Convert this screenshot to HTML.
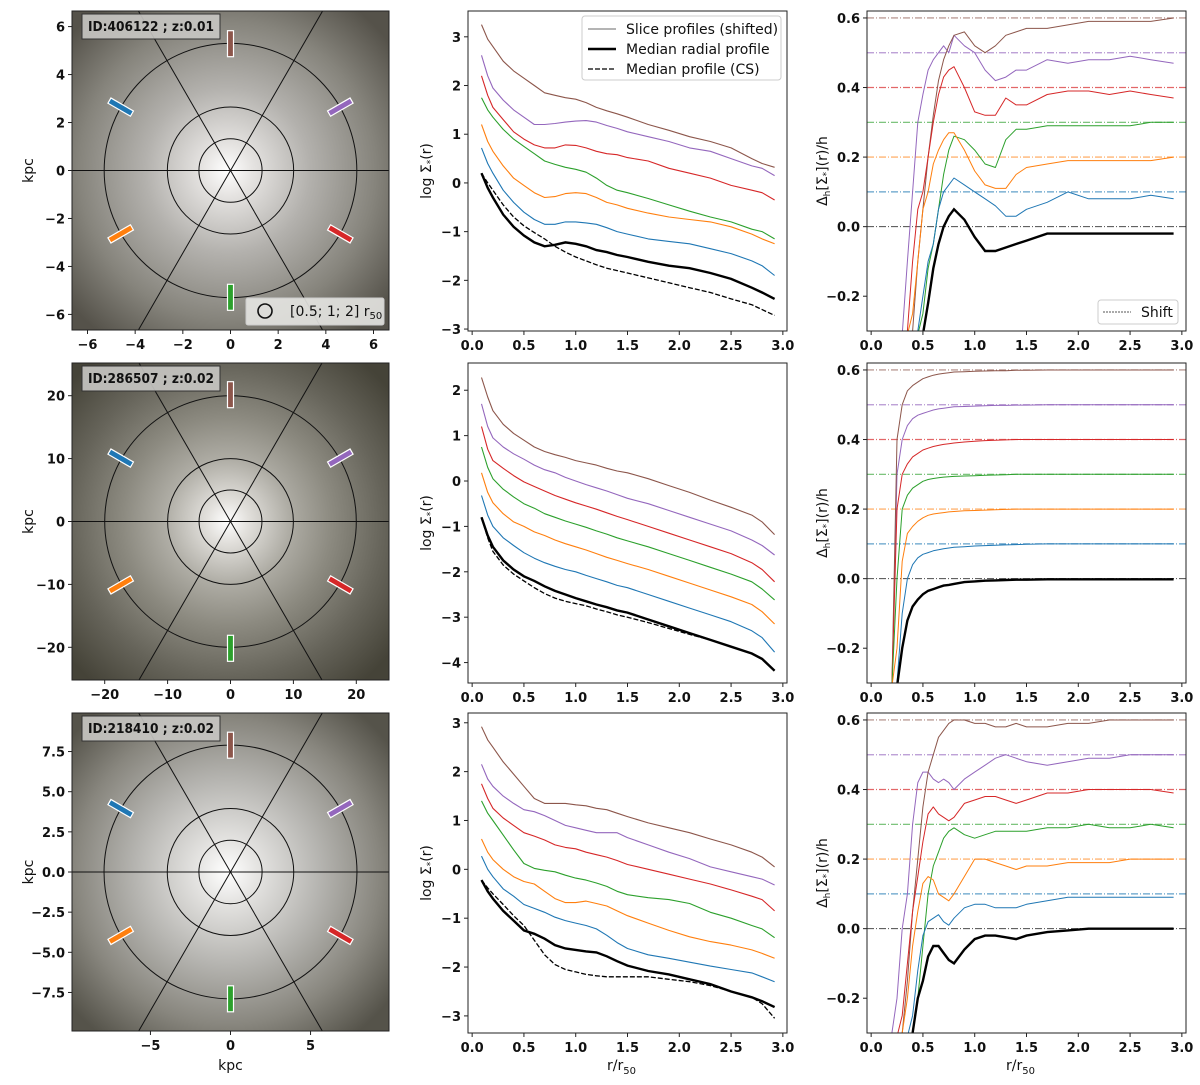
<!DOCTYPE html>
<html><head><meta charset="utf-8"><title>Radial profiles</title>
<style>
html,body{margin:0;padding:0;background:#fff;overflow:hidden;width:1200px;height:1085px;position:relative;}
svg{display:block;position:absolute;left:0;top:0;font-family:"DejaVu Sans","Liberation Sans",sans-serif;}
.tk{font-size:13px;font-weight:bold;fill:#111;}
.lab{font-size:14px;fill:#111;}
</style></head>
<body>
<svg id="fig" width="1200" height="1085" viewBox="0 0 1200 1085" xmlns="http://www.w3.org/2000/svg">
<defs>
<radialGradient id="g1" cx="0.49" cy="0.5" r="0.65"><stop offset="0" stop-color="#ffffff"/><stop offset="0.12" stop-color="#e6e4e2"/><stop offset="0.4" stop-color="#b3b1ad"/><stop offset="0.72" stop-color="#86847c"/><stop offset="1" stop-color="#55524a"/></radialGradient>
<radialGradient id="g2" cx="0.49" cy="0.5" r="0.66"><stop offset="0" stop-color="#ffffff"/><stop offset="0.1" stop-color="#e2e0dc"/><stop offset="0.3" stop-color="#aeaca4"/><stop offset="0.5" stop-color="#8c8a80"/><stop offset="0.75" stop-color="#66645a"/><stop offset="1" stop-color="#454338"/></radialGradient>
<radialGradient id="g3" cx="0.49" cy="0.5" r="0.65"><stop offset="0" stop-color="#ffffff"/><stop offset="0.14" stop-color="#e6e5e3"/><stop offset="0.45" stop-color="#b5b4b0"/><stop offset="0.74" stop-color="#88867e"/><stop offset="1" stop-color="#55534a"/></radialGradient>
</defs>
</svg>
<script>
// ---------- data ----------
const rMid = [0.09,0.15,0.2,0.3,0.4,0.5,0.6,0.7,0.8,0.9,1.0,1.1,1.2,1.3,1.4,1.5,1.7,1.9,2.1,2.3,2.5,2.7,2.8,2.92];
const rDev = [0.15,0.2,0.25,0.3,0.35,0.4,0.45,0.5,0.55,0.6,0.65,0.7,0.75,0.8,0.9,1.0,1.1,1.2,1.3,1.4,1.5,1.7,1.9,2.1,2.3,2.5,2.7,2.92];
const sliceNames = ["blue","orange","green","red","purple","brown"];
const shiftLevels = [0.1,0.2,0.3,0.4,0.5,0.6];
const galaxyIds = ["ID:406122 ; z:0.01","ID:286507 ; z:0.02","ID:218410 ; z:0.02"];
const r50 = [2.65,10,3.95];

// Row 1 profiles
const p1Brown  = [3.25,2.95,2.8,2.5,2.3,2.15,2.0,1.85,1.8,1.75,1.72,1.65,1.55,1.48,1.42,1.35,1.2,1.08,0.95,0.85,0.72,0.5,0.4,0.32];
const p1Purple = [2.62,2.2,1.95,1.7,1.5,1.35,1.2,1.2,1.22,1.25,1.27,1.28,1.25,1.18,1.12,1.05,0.95,0.85,0.72,0.65,0.5,0.35,0.3,0.15];
const p1Red    = [2.2,1.8,1.55,1.3,1.05,0.9,0.78,0.72,0.72,0.78,0.77,0.72,0.65,0.6,0.58,0.52,0.45,0.3,0.2,0.1,-0.05,-0.15,-0.2,-0.35];
const p1Green  = [1.75,1.5,1.35,1.1,0.9,0.75,0.6,0.45,0.38,0.32,0.28,0.22,0.1,-0.05,-0.15,-0.2,-0.32,-0.45,-0.58,-0.7,-0.8,-0.95,-1.0,-1.15];
const p1Orange = [1.2,0.85,0.65,0.35,0.1,-0.05,-0.2,-0.3,-0.28,-0.22,-0.2,-0.22,-0.3,-0.4,-0.45,-0.52,-0.62,-0.7,-0.75,-0.8,-0.9,-1.05,-1.15,-1.25];
const p1Blue   = [0.72,0.4,0.2,-0.15,-0.4,-0.6,-0.75,-0.85,-0.85,-0.8,-0.8,-0.82,-0.85,-0.92,-1.0,-1.05,-1.15,-1.2,-1.25,-1.35,-1.45,-1.6,-1.7,-1.9];
const p1Median = [0.2,-0.1,-0.3,-0.65,-0.9,-1.08,-1.22,-1.3,-1.27,-1.22,-1.25,-1.3,-1.38,-1.42,-1.48,-1.52,-1.62,-1.7,-1.75,-1.85,-1.97,-2.15,-2.25,-2.38];
const p1CS     = [0.2,0.0,-0.15,-0.45,-0.7,-0.88,-1.02,-1.15,-1.3,-1.42,-1.52,-1.6,-1.68,-1.75,-1.8,-1.85,-1.95,-2.05,-2.15,-2.25,-2.38,-2.5,-2.6,-2.72];
// Row 2 profiles
const p2Brown  = [2.28,1.85,1.55,1.25,1.05,0.9,0.75,0.65,0.58,0.52,0.45,0.4,0.35,0.28,0.22,0.18,0.05,-0.1,-0.25,-0.42,-0.58,-0.75,-0.9,-1.18];
const p2Purple = [1.7,1.2,0.95,0.75,0.6,0.48,0.35,0.25,0.18,0.08,0.0,-0.08,-0.15,-0.22,-0.3,-0.38,-0.5,-0.65,-0.8,-0.95,-1.1,-1.3,-1.42,-1.63];
const p2Red    = [1.2,0.7,0.45,0.28,0.12,-0.02,-0.12,-0.22,-0.32,-0.4,-0.48,-0.55,-0.62,-0.7,-0.78,-0.85,-1.0,-1.15,-1.3,-1.45,-1.6,-1.8,-1.95,-2.22];
const p2Green  = [0.75,0.3,0.05,-0.18,-0.35,-0.5,-0.6,-0.72,-0.8,-0.88,-0.95,-1.02,-1.1,-1.17,-1.25,-1.32,-1.45,-1.6,-1.75,-1.9,-2.05,-2.22,-2.38,-2.62];
const p2Orange = [0.18,-0.25,-0.48,-0.72,-0.9,-1.0,-1.12,-1.2,-1.3,-1.38,-1.45,-1.52,-1.6,-1.68,-1.75,-1.82,-1.95,-2.1,-2.25,-2.4,-2.55,-2.72,-2.88,-3.15];
const p2Blue   = [-0.32,-0.75,-1.0,-1.25,-1.42,-1.58,-1.7,-1.8,-1.88,-1.95,-2.0,-2.08,-2.15,-2.22,-2.3,-2.35,-2.5,-2.65,-2.8,-2.95,-3.1,-3.3,-3.45,-3.77];
const p2Median = [-0.8,-1.2,-1.45,-1.75,-1.95,-2.1,-2.2,-2.32,-2.42,-2.5,-2.58,-2.65,-2.72,-2.78,-2.85,-2.9,-3.05,-3.2,-3.35,-3.5,-3.65,-3.8,-3.92,-4.18];
const p2CS     = [-0.8,-1.25,-1.55,-1.85,-2.05,-2.2,-2.35,-2.48,-2.58,-2.65,-2.7,-2.75,-2.82,-2.88,-2.95,-3.0,-3.12,-3.25,-3.38,-3.5,-3.65,-3.8,-3.92,-4.18];
// Row 3 profiles
const p3Brown  = [2.92,2.65,2.5,2.2,1.95,1.7,1.45,1.35,1.35,1.35,1.32,1.3,1.25,1.22,1.15,1.08,0.95,0.85,0.75,0.62,0.5,0.35,0.25,0.05];
const p3Purple = [2.15,1.85,1.7,1.5,1.35,1.22,1.18,1.1,1.0,0.9,0.85,0.8,0.75,0.75,0.75,0.65,0.5,0.35,0.22,0.05,-0.05,-0.15,-0.2,-0.32];
const p3Red    = [1.75,1.45,1.25,1.05,0.9,0.75,0.68,0.6,0.5,0.45,0.42,0.35,0.3,0.25,0.18,0.1,0.0,-0.1,-0.2,-0.3,-0.42,-0.55,-0.62,-0.85];
const p3Green  = [1.4,1.15,1.0,0.7,0.4,0.12,0.02,-0.02,-0.05,-0.12,-0.18,-0.22,-0.28,-0.35,-0.45,-0.52,-0.58,-0.62,-0.7,-0.88,-1.0,-1.15,-1.22,-1.4];
const p3Orange = [0.62,0.35,0.2,0.0,-0.15,-0.25,-0.3,-0.45,-0.6,-0.68,-0.68,-0.65,-0.7,-0.75,-0.85,-0.95,-1.1,-1.25,-1.38,-1.48,-1.55,-1.65,-1.72,-1.82];
const p3Blue   = [0.27,0.0,-0.15,-0.4,-0.55,-0.72,-0.8,-0.88,-0.98,-1.05,-1.1,-1.15,-1.22,-1.35,-1.5,-1.62,-1.75,-1.82,-1.9,-1.98,-2.05,-2.12,-2.2,-2.3];
const p3Median = [-0.22,-0.45,-0.6,-0.85,-1.05,-1.25,-1.32,-1.42,-1.55,-1.62,-1.65,-1.68,-1.7,-1.78,-1.88,-1.97,-2.08,-2.15,-2.25,-2.35,-2.5,-2.62,-2.7,-2.82];
const p3CS     = [-0.22,-0.38,-0.5,-0.72,-0.95,-1.15,-1.45,-1.75,-1.95,-2.05,-2.1,-2.15,-2.18,-2.2,-2.2,-2.2,-2.2,-2.25,-2.3,-2.38,-2.5,-2.62,-2.75,-3.05];

// Row 1 deviations (shifted)
const d1Brown  = [-1,-1,-1,-0.6,-0.5,-0.3,-0.1,0.05,0.2,0.32,0.42,0.48,0.52,0.55,0.56,0.52,0.5,0.52,0.55,0.56,0.57,0.57,0.58,0.59,0.59,0.59,0.59,0.6];
const d1Purple = [-1,-1,-1,-0.5,-0.1,0.1,0.3,0.38,0.45,0.48,0.5,0.52,0.5,0.55,0.52,0.5,0.45,0.42,0.43,0.45,0.45,0.48,0.47,0.48,0.48,0.49,0.48,0.47];
const d1Red    = [-1,-1,-1,-0.6,-0.3,-0.1,0.05,0.1,0.2,0.3,0.38,0.43,0.45,0.46,0.4,0.33,0.32,0.32,0.37,0.35,0.35,0.38,0.39,0.39,0.38,0.39,0.38,0.37];
const d1Green  = [-1,-1,-1,-0.8,-0.6,-0.5,-0.35,-0.25,-0.12,-0.05,0.05,0.15,0.22,0.26,0.25,0.22,0.18,0.17,0.25,0.28,0.28,0.29,0.29,0.29,0.29,0.29,0.3,0.3];
const d1Orange = [-1,-1,-1,-0.6,-0.4,-0.25,-0.1,0.05,0.1,0.18,0.22,0.25,0.27,0.27,0.22,0.16,0.12,0.11,0.11,0.15,0.17,0.18,0.19,0.19,0.19,0.19,0.19,0.2];
const d1Blue   = [-1,-1,-1,-0.8,-0.6,-0.4,-0.3,-0.2,-0.1,-0.05,0.05,0.1,0.12,0.14,0.12,0.1,0.08,0.06,0.03,0.03,0.05,0.07,0.1,0.08,0.08,0.08,0.09,0.08];
const d1Median = [-1,-1,-1,-0.9,-0.8,-0.6,-0.45,-0.35,-0.22,-0.12,-0.05,0.0,0.03,0.05,0.02,-0.03,-0.07,-0.07,-0.06,-0.05,-0.04,-0.02,-0.02,-0.02,-0.02,-0.02,-0.02,-0.02];
// Row 2 deviations
const d2Brown  = [-1,-0.4,0.4,0.5,0.54,0.555,0.565,0.575,0.58,0.585,0.588,0.59,0.592,0.594,0.595,0.596,0.597,0.598,0.598,0.599,0.599,0.6,0.6,0.6,0.6,0.6,0.6,0.6];
const d2Purple = [-1,-0.5,0.3,0.4,0.44,0.46,0.47,0.475,0.48,0.485,0.488,0.49,0.492,0.494,0.495,0.496,0.497,0.498,0.498,0.499,0.499,0.5,0.5,0.5,0.5,0.5,0.5,0.5];
const d2Red    = [-1,-0.6,0.2,0.3,0.33,0.35,0.36,0.37,0.375,0.38,0.383,0.386,0.388,0.39,0.393,0.395,0.397,0.398,0.399,0.4,0.4,0.4,0.4,0.4,0.4,0.4,0.4,0.4];
const d2Green  = [-1,-0.7,0.0,0.2,0.24,0.26,0.27,0.28,0.285,0.288,0.29,0.292,0.293,0.294,0.295,0.296,0.297,0.298,0.299,0.3,0.3,0.3,0.3,0.3,0.3,0.3,0.3,0.3];
const d2Orange = [-1,-0.8,-0.2,0.05,0.13,0.15,0.165,0.175,0.182,0.186,0.188,0.19,0.192,0.193,0.195,0.196,0.197,0.198,0.199,0.2,0.2,0.2,0.2,0.2,0.2,0.2,0.2,0.2];
const d2Blue   = [-1,-1,-0.3,-0.1,0.0,0.04,0.06,0.07,0.075,0.08,0.083,0.086,0.088,0.09,0.092,0.094,0.095,0.096,0.097,0.098,0.099,0.1,0.1,0.1,0.1,0.1,0.1,0.1];
const d2Median = [-1,-1,-0.5,-0.2,-0.12,-0.08,-0.06,-0.045,-0.035,-0.03,-0.025,-0.02,-0.018,-0.015,-0.01,-0.008,-0.006,-0.005,-0.004,-0.003,-0.003,-0.002,-0.002,-0.002,-0.002,-0.002,-0.002,-0.002];
// Row 3 deviations
const d3Brown  = [-1,-0.6,-0.4,-0.3,-0.15,0.05,0.2,0.35,0.45,0.5,0.55,0.57,0.59,0.6,0.6,0.59,0.59,0.58,0.58,0.59,0.58,0.58,0.59,0.59,0.6,0.6,0.6,0.6];
const d3Purple = [-0.5,-0.3,-0.2,0.0,0.1,0.3,0.42,0.45,0.45,0.43,0.42,0.43,0.42,0.4,0.43,0.45,0.47,0.49,0.5,0.49,0.48,0.47,0.48,0.49,0.49,0.5,0.5,0.5];
const d3Red    = [-1,-0.6,-0.4,-0.25,-0.1,0.05,0.15,0.25,0.33,0.35,0.33,0.32,0.31,0.32,0.36,0.37,0.38,0.38,0.37,0.36,0.37,0.39,0.39,0.4,0.4,0.4,0.4,0.39];
const d3Green  = [-1,-1,-0.8,-0.6,-0.4,-0.3,-0.2,-0.05,0.1,0.18,0.22,0.26,0.28,0.29,0.27,0.26,0.27,0.28,0.28,0.28,0.28,0.29,0.29,0.3,0.29,0.29,0.3,0.29];
const d3Orange = [-1,-0.8,-0.6,-0.3,-0.2,-0.05,0.05,0.13,0.15,0.14,0.1,0.09,0.08,0.1,0.15,0.2,0.2,0.19,0.18,0.17,0.18,0.18,0.19,0.19,0.19,0.2,0.2,0.2];
const d3Blue   = [-1,-1,-0.8,-0.6,-0.4,-0.25,-0.12,-0.02,0.02,0.03,0.04,0.02,0.01,0.03,0.06,0.07,0.07,0.06,0.06,0.06,0.07,0.08,0.09,0.09,0.09,0.09,0.09,0.09];
const d3Median = [-1,-1,-1,-0.8,-0.55,-0.3,-0.2,-0.15,-0.08,-0.05,-0.05,-0.07,-0.09,-0.1,-0.06,-0.03,-0.02,-0.02,-0.025,-0.03,-0.02,-0.01,-0.005,0,0,0,0,0];

const midTicks = [[-3,-2,-1,0,1,2,3],[-4,-3,-2,-1,0,1,2],[-3,-2,-1,0,1,2,3]];
const devTicks = [-0.2,0.0,0.2,0.4,0.6];
const xTicks = [0,0.5,1,1.5,2,2.5,3];
const imgTicksX = [[-6,-4,-2,0,2,4,6],[-20,-10,0,10,20],[-5,0,5]];
const imgTicksY = [[-6,-4,-2,0,2,4,6],[-20,-10,0,10,20],[-7.5,-5,-2.5,0,2.5,5,7.5]];

// ---------- drawing ----------
const NS = "http://www.w3.org/2000/svg";
const svg = document.getElementById("fig");
const COLORS = {blue:"#1f77b4",orange:"#ff7f0e",green:"#2ca02c",red:"#d62728",purple:"#9467bd",brown:"#8c564b"};
function mk(tag, attrs, parent){const e=document.createElementNS(NS,tag);for(const k in attrs)e.setAttribute(k,attrs[k]);(parent||svg).appendChild(e);return e;}
function txt(s, attrs, parent){const e=mk("text",attrs,parent);e.textContent=s;return e;}
function fmt(v,dec){return (v<0?"\u2212":"")+Math.abs(v).toFixed(dec);}

const rowsY = [[11,331],[363,683],[713,1033]];
const imgY = [[11,330],[363,680],[713,1031]];
const IX0=72, IX1=389, MX0=468, MX1=787, RX0=867, RX1=1186;
const midLim = [[-3.04,3.53],[-4.45,2.6],[-3.35,3.2]];
const devLim = [-0.3,0.62];
const xLim = [-0.04,3.04];
const profiles = [
 [p1Blue,p1Orange,p1Green,p1Red,p1Purple,p1Brown,p1Median,p1CS],
 [p2Blue,p2Orange,p2Green,p2Red,p2Purple,p2Brown,p2Median,p2CS],
 [p3Blue,p3Orange,p3Green,p3Red,p3Purple,p3Brown,p3Median,p3CS]];
const devs = [
 [d1Blue,d1Orange,d1Green,d1Red,d1Purple,d1Brown,d1Median],
 [d2Blue,d2Orange,d2Green,d2Red,d2Purple,d2Brown,d2Median],
 [d3Blue,d3Orange,d3Green,d3Red,d3Purple,d3Brown,d3Median]];
const imgLim = [6.65,25.2,9.9];
const markerAngles = [150,210,270,330,30,90];

function pathD(xs, ys, sx, sy){return xs.map((x,i)=>(i?"L":"M")+sx(x).toFixed(1)+","+sy(ys[i]).toFixed(1)).join("");}

for(let row=0; row<3; row++){
  // ---- image panel ----
  const [iy0,iy1]=imgY[row];
  const L=imgLim[row];
  const cx=(IX0+IX1)/2, cy=(iy0+iy1)/2;
  const kx=v=>cx+v/L*(IX1-IX0)/2, ky=v=>cy-v/L*(iy1-iy0)/2;
  const g=mk("g",{});
  
  
  const cid="clipI"+row;
  const cp=mk("clipPath",{id:cid},g); mk("rect",{x:IX0,y:iy0,width:IX1-IX0,height:iy1-iy0},cp);
  const bg=mk("rect",{x:IX0,y:iy0,width:IX1-IX0,height:iy1-iy0,fill:"url(#g"+(row+1)+")"},g);
  
  
  const ov=mk("g",{"clip-path":"url(#"+cid+")"},g);
  for(const f of [0.5,1,2]){
    const c=mk("ellipse",{cx:cx,cy:cy,rx:f*r50[row]/L*(IX1-IX0)/2,ry:f*r50[row]/L*(iy1-iy0)/2,fill:"none",stroke:"#111",'stroke-width':1},ov);
    
    
  }
  for(const a of [0,60,120]){
    const t=a*Math.PI/180;
    // clip the line segment to the panel box analytically
    const hw=(IX1-IX0)/2, hh=(iy1-iy0)/2;
    const dx=Math.cos(t), dy=Math.sin(t);
    const s=Math.min(Math.abs(dx)>1e-6?hw/Math.abs(dx):1e9, Math.abs(dy)>1e-6?hh/Math.abs(dy):1e9);
    const ln=mk("line",{x1:cx-s*dx,y1:cy+s*dy,x2:cx+s*dx,y2:cy-s*dy,stroke:"#111",'stroke-width':1},ov);
    
    
  }
  const half=(IX1-IX0)/2;
  sliceNames.forEach((nm,i)=>{
    const ang=markerAngles[i], rm=0.8*half;
    const px=cx+rm*Math.cos(ang*Math.PI/180), py=cy-rm*Math.sin(ang*Math.PI/180);
    const m=mk("rect",{x:px-13,y:py-3,width:26,height:6,fill:COLORS[nm],stroke:"#fff",'stroke-width':1.2,transform:"rotate("+(-ang)+" "+px+" "+py+")"},g);
    
    
  });
  const idb=mk("rect",{x:IX0+10,y:iy0+3,width:138,height:25,fill:"#c8c7c3",'fill-opacity':0.9,stroke:"#333",'stroke-width':1},g);
  
  
  const idt=txt(galaxyIds[row],{x:IX0+16,y:iy0+20,'font-size':13,'font-weight':'bold',fill:'#111',textLength:126,lengthAdjust:'spacingAndGlyphs'},g);
  
  
  mk("rect",{x:IX0,y:iy0,width:IX1-IX0,height:iy1-iy0,fill:"none",stroke:"#222",'stroke-width':1},g);
  imgTicksY[row].forEach(v=>{
    mk("line",{x1:IX0-4,y1:ky(v),x2:IX0,y2:ky(v),stroke:"#222"},g);
    const t=txt(fmt(v, row==2?1:0),{x:IX0-7,y:ky(v)+5,'text-anchor':'end',class:'tk'},g);
    
    
  });
  imgTicksX[row].forEach(v=>{
    mk("line",{x1:kx(v),y1:iy1,x2:kx(v),y2:iy1+4,stroke:"#222"},g);
    const t=txt(fmt(v,0),{x:kx(v),y:iy1+19,'text-anchor':'middle',class:'tk'},g);
    
    
  });
  const yl=txt("kpc",{x:0,y:0,transform:"translate(33,"+cy+") rotate(-90)",'text-anchor':'middle',class:'lab'},g);
  
  
  if(row==2){
    const xl=txt("kpc",{x:cx,y:1070,'text-anchor':'middle',class:'lab'},g);
    
    
  }
  if(row==0){
    const lb=mk("rect",{x:246,y:298,width:138,height:27,rx:2,fill:"#e6e5e2",'fill-opacity':0.9,stroke:"#ccc"},g);
    
    
    mk("circle",{cx:265,cy:311,r:7,fill:"none",stroke:"#111",'stroke-width':1.6},g);
    const lt=txt("[0.5; 1; 2] r",{x:290,y:316,class:'lab'},g);
    const sub=mk("tspan",{'font-size':10,dy:3},lt); sub.textContent="50";
    
    
  }

  // ---- middle profile panel ----
  const [y0,y1]=rowsY[row];
  const ml=midLim[row];
  const sx=v=>MX0+(v-xLim[0])/(xLim[1]-xLim[0])*(MX1-MX0);
  const sy=v=>y1-(Math.max(v,ml[0]-0.05)-ml[0])/(ml[1]-ml[0])*(y1-y0);
  const gm=mk("g",{});
  
  
  const cm="clipM"+row;
  const cpm=mk("clipPath",{id:cm},gm); mk("rect",{x:MX0,y:y0,width:MX1-MX0,height:y1-y0},cpm);
  const pg=mk("g",{'clip-path':'url(#'+cm+')'},gm);
  const P=profiles[row];
  sliceNames.forEach((nm,i)=>{
    const p=mk("path",{d:pathD(rMid,P[i],sx,sy),fill:"none",stroke:COLORS[nm],'stroke-width':1.1,'stroke-linejoin':'round'},pg);
    
    
  });
  const pmed=mk("path",{d:pathD(rMid,P[6],sx,sy),fill:"none",stroke:"#000",'stroke-width':2.4},pg);
  
  
  const pcs=mk("path",{d:pathD(rMid,P[7],sx,sy),fill:"none",stroke:"#000",'stroke-width':1.3,'stroke-dasharray':'5,2'},pg);
  
  
  mk("rect",{x:MX0,y:y0,width:MX1-MX0,height:y1-y0,fill:"none",stroke:"#222"},gm);
  midTicks[row].forEach(v=>{
    mk("line",{x1:MX0-4,y1:sy(v),x2:MX0,y2:sy(v),stroke:"#222"},gm);
    const t=txt(fmt(v,0),{x:MX0-7,y:sy(v)+5,'text-anchor':'end',class:'tk'},gm);
    
    
  });
  xTicks.forEach(v=>{
    mk("line",{x1:sx(v),y1:y1,x2:sx(v),y2:y1+4,stroke:"#222"},gm);
    const t=txt(v.toFixed(1),{x:sx(v),y:y1+19,'text-anchor':'middle',class:'tk'},gm);
    
    
  });
  const myl=txt("log \u03A3",{x:0,y:0,transform:"translate(431,"+((y0+y1)/2)+") rotate(-90)",'text-anchor':'middle',class:'lab'},gm);
  const ms1=mk("tspan",{'font-size':9,dy:2},myl); ms1.textContent="*";
  const ms2=mk("tspan",{dy:-2},myl); ms2.textContent="(r)";
  
  

  // ---- right deviation panel ----
  const rx=v=>RX0+(v-xLim[0])/(xLim[1]-xLim[0])*(RX1-RX0);
  const ry=v=>y1-(Math.max(v,devLim[0]-0.01)-devLim[0])/(devLim[1]-devLim[0])*(y1-y0);
  const gr=mk("g",{});
  
  
  const cr="clipR"+row;
  const cpr=mk("clipPath",{id:cr},gr); mk("rect",{x:RX0,y:y0,width:RX1-RX0,height:y1-y0},cpr);
  const rg=mk("g",{'clip-path':'url(#'+cr+')'},gr);
  const z=mk("line",{x1:RX0,x2:RX1,y1:ry(0),y2:ry(0),stroke:"#000",'stroke-width':1,'stroke-dasharray':'7,2,1,2','stroke-opacity':0.7},rg);
  
  
  sliceNames.forEach((nm,i)=>{
    const s=mk("line",{x1:RX0,x2:RX1,y1:ry(shiftLevels[i]),y2:ry(shiftLevels[i]),stroke:COLORS[nm],'stroke-width':1.2,'stroke-dasharray':'7,2,1,2','stroke-opacity':0.7},rg);
    
    
  });
  const D=devs[row];
  [4,5,3,2,1,0].forEach(i=>{
    const nm=sliceNames[i];
    const p=mk("path",{d:pathD(rDev,D[i],rx,ry),fill:"none",stroke:COLORS[nm],'stroke-width':1,'stroke-linejoin':'round'},rg);
    
    
  });
  const dm=mk("path",{d:pathD(rDev,D[6],rx,ry),fill:"none",stroke:"#000",'stroke-width':2.4},rg);
  
  
  mk("rect",{x:RX0,y:y0,width:RX1-RX0,height:y1-y0,fill:"none",stroke:"#222"},gr);
  devTicks.forEach(v=>{
    mk("line",{x1:RX0-4,y1:ry(v),x2:RX0,y2:ry(v),stroke:"#222"},gr);
    const t=txt(fmt(v,1),{x:RX0-7,y:ry(v)+5,'text-anchor':'end',class:'tk'},gr);
    
    
  });
  xTicks.forEach(v=>{
    mk("line",{x1:rx(v),y1:y1,x2:rx(v),y2:y1+4,stroke:"#222"},gr);
    const t=txt(v.toFixed(1),{x:rx(v),y:y1+19,'text-anchor':'middle',class:'tk'},gr);
    
    
  });
  const ryl=txt("\u0394",{x:0,y:0,transform:"translate(827,"+((y0+y1)/2)+") rotate(-90)",'text-anchor':'middle',class:'lab','font-size':13},gr);
  const s1=mk("tspan",{'font-size':9,dy:3},ryl); s1.textContent="h";
  const s2=mk("tspan",{dy:-3},ryl); s2.textContent="[\u03A3";
  const s3=mk("tspan",{'font-size':9,dy:2},ryl); s3.textContent="*";
  const s4=mk("tspan",{dy:-2},ryl); s4.textContent="](r)/h";
  
  
  if(row==2){
    [[(MX0+MX1)/2,'x-axis-title-middle'],[(RX0+RX1)/2,'x-axis-title-right']].forEach(([xx,nm])=>{
      const t=txt("r/r",{x:xx-6,y:1070,'text-anchor':'middle',class:'lab'});
      const sb=mk("tspan",{'font-size':10,dy:4},t); sb.textContent="50";
      
      
    });
  }
  if(row==0){
    const lg=mk("g",{});
    
    
    mk("rect",{x:582,y:16,width:199,height:64,rx:3,fill:"#fff",'fill-opacity':0.9,stroke:"#ccc"},lg);
    mk("line",{x1:588,x2:616,y1:29,y2:29,stroke:"#888",'stroke-width':1.2},lg);
    mk("line",{x1:588,x2:616,y1:49,y2:49,stroke:"#000",'stroke-width':2.4},lg);
    mk("line",{x1:588,x2:616,y1:69,y2:69,stroke:"#000",'stroke-width':1.3,'stroke-dasharray':'5,2'},lg);
    const e1=txt("Slice profiles (shifted)",{x:626,y:34,class:'lab'},lg);
    
    
    const e2=txt("Median radial profile",{x:626,y:54,class:'lab'},lg);
    
    
    const e3=txt("Median profile (CS)",{x:626,y:74,class:'lab'},lg);
    
    
    const sg=mk("g",{});
    
    
    mk("rect",{x:1098,y:300,width:80,height:24,rx:3,fill:"#fff",'fill-opacity':0.9,stroke:"#ccc"},sg);
    mk("line",{x1:1103,x2:1131,y1:312,y2:312,stroke:"#555",'stroke-width':1,'stroke-dasharray':'2,1'},sg);
    const st=txt("Shift",{x:1141,y:317,class:'lab'},sg);
    
    
  }
}
</script>
</body></html>
